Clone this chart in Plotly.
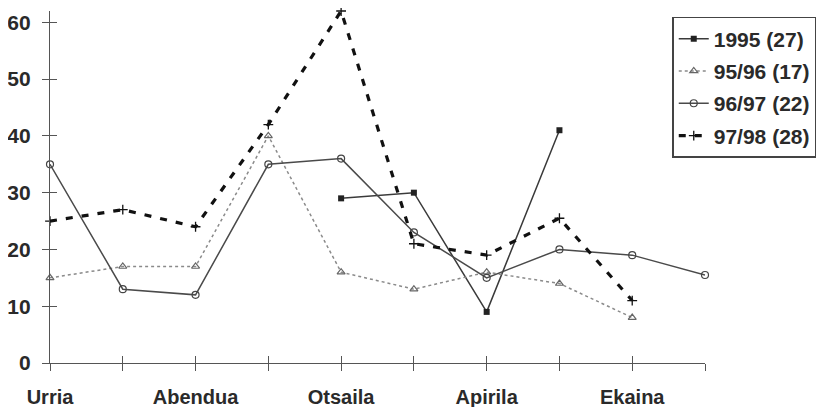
import plotly.graph_objects as go

months = ["Urria", "Azaroa", "Abendua", "Urtarrila", "Otsaila", "Martxoa",
          "Apirila", "Maiatza", "Ekaina", "Uztaila"]
shown_labels = ["Urria", "", "Abendua", "", "Otsaila", "", "Apirila", "", "Ekaina", ""]

s1995 = [None, None, None, None, 29, 30, 9, 41, None, None]
s9596 = [15, 17, 17, 40, 16, 13, 16, 14, 8, None]
s9697 = [35, 13, 12, 35, 36, 23, 15, 20, 19, 15.5]
s9798 = [25, 27, 24, 42, 62, 21, 19, 25.5, 11, None]

names = ["1995 (27)", "95/96 (17)", "96/97 (22)", "97/98 (28)"]
y_ticks = [0, 10, 20, 30, 40, 50, 60]

FONT = "Arial, Liberation Sans, sans-serif"
TXT = "#2a2a2a"
AX = "#555555"

fig = go.Figure()
fig.add_trace(go.Scatter(x=months, y=s1995, name=names[0], mode="lines+markers",
                         legendgroup="a", cliponaxis=False,
                         line=dict(color="#3a3a3a", width=1.5),
                         marker=dict(symbol="square", size=6, color="#222222")))
fig.add_trace(go.Scatter(x=months, y=s9596, name=names[1], mode="lines+markers",
                         legendgroup="b", cliponaxis=False,
                         line=dict(color="#8a8a8a", width=1.5, dash="dot"),
                         marker=dict(symbol="triangle-up-open", size=7, color="#666666",
                                     line=dict(width=1.2))))
fig.add_trace(go.Scatter(x=months, y=s9697, name=names[2], mode="lines+markers",
                         legendgroup="c", cliponaxis=False,
                         line=dict(color="#4a4a4a", width=1.5),
                         marker=dict(symbol="circle-open", size=7, color="#444444",
                                     line=dict(width=1.2))))
fig.add_trace(go.Scatter(x=months, y=s9798, name=names[3], mode="lines+markers",
                         legendgroup="d", cliponaxis=False,
                         line=dict(color="#111111", width=3.2, dash="7px,9px"),
                         marker=dict(symbol="cross-thin-open", size=7, color="#111111",
                                     line=dict(width=1.3))))

# dummy trace for overlay tick axes (crossing ticks)
fig.add_trace(go.Scatter(x=[0], y=[0], xaxis="x2", yaxis="y2", mode="markers",
                         marker=dict(opacity=0), showlegend=False, hoverinfo="skip"))

# page body has an 8px margin: figure is 824x399 so it fills the 832x407 window
fig.update_layout(
    width=824, height=399,
    margin=dict(l=42, r=127, t=3, b=44, autoexpand=False),
    paper_bgcolor="white", plot_bgcolor="white",
    font=dict(family=FONT, color=TXT, size=20, weight="bold"),
    showlegend=True,
    legend=dict(x=0.950, y=0.983, xanchor="left", yanchor="top",
                bordercolor="#444444", borderwidth=1.5, bgcolor="white",
                tracegroupgap=2,
                font=dict(family=FONT, size=21, color=TXT, weight="bold")),
    xaxis=dict(type="category", categoryarray=months, range=[0, 9],
               tickvals=months, ticktext=shown_labels, automargin=False,
               ticks="outside", ticklen=7, tickcolor=AX, tickwidth=1.2,
               showline=True, linecolor=AX, linewidth=1.2,
               showgrid=False, zeroline=False, ticklabelstandoff=9,
               tickfont=dict(family=FONT, size=20, color=TXT, weight="bold")),
    yaxis=dict(range=[0, 62], tickvals=y_ticks, automargin=False,
               ticks="outside", ticklen=7, tickcolor=AX, tickwidth=1.2,
               showline=True, linecolor=AX, linewidth=1.2,
               showgrid=False, zeroline=False, ticklabelstandoff=7,
               tickfont=dict(family=FONT, size=21, color=TXT, weight="bold")),
    xaxis2=dict(overlaying="x", range=[0, 9], tickvals=list(range(len(months))),
                ticks="inside", ticklen=7, tickcolor=AX, tickwidth=1.2, automargin=False,
                showticklabels=False, showline=False, showgrid=False, zeroline=False,
                side="bottom"),
    yaxis2=dict(overlaying="y", range=[0, 62], tickvals=y_ticks, automargin=False,
                ticks="inside", ticklen=7, tickcolor=AX, tickwidth=1.2,
                showticklabels=False, showline=False, showgrid=False, zeroline=False,
                side="left"),
)

fig.write_html("out.html")
